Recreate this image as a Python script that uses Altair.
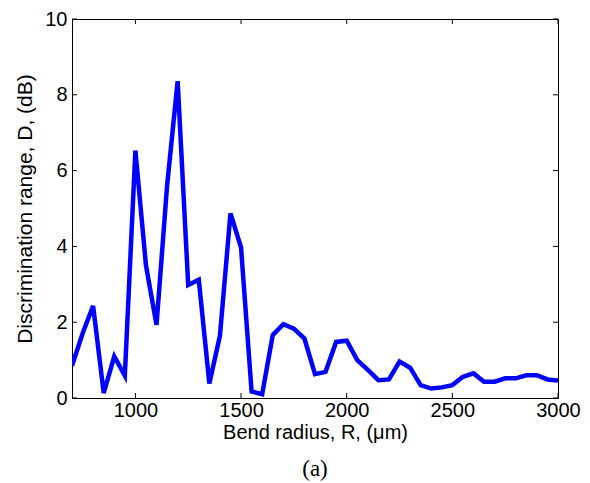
import altair as alt
import pandas as pd

# Data
radius = [700, 750, 800, 850, 900, 950, 1000, 1050, 1100, 1150, 1200, 1250, 1300,
          1350, 1400, 1450, 1500, 1550, 1600, 1650, 1700, 1750, 1800, 1850, 1900,
          1950, 2000, 2050, 2100, 2150, 2200, 2250, 2300, 2350, 2400, 2450, 2500,
          2550, 2600, 2650, 2700, 2750, 2800, 2850, 2900, 2950, 3000]
discrimination = [0.85, 1.70, 2.43, 0.13, 1.10, 0.59, 6.53, 3.50, 1.93, 5.60, 8.36,
                  2.98, 3.12, 0.38, 1.64, 4.87, 3.97, 0.17, 0.10, 1.66, 1.95, 1.83,
                  1.57, 0.63, 0.69, 1.48, 1.51, 1.00, 0.74, 0.47, 0.49, 0.96, 0.80,
                  0.34, 0.25, 0.28, 0.34, 0.56, 0.65, 0.43, 0.43, 0.52, 0.52, 0.60,
                  0.60, 0.49, 0.46]
x_ticks = [1000, 1500, 2000, 2500, 3000]
y_ticks = [0, 2, 4, 6, 8, 10]
x_title = "Bend radius, R, (μm)"
y_title = "Discrimination range, D, (dB)"
caption = ["(a)"]

W, H = 486, 379
FONT = "Liberation Sans"

df = pd.DataFrame({"R": radius, "D": discrimination})
xt = pd.DataFrame({"R": x_ticks})
yt = pd.DataFrame({"D": y_ticks})
cap = pd.DataFrame({"t": caption})

xscale = alt.Scale(domain=[700, 3000], nice=False, zero=False)
yscale = alt.Scale(domain=[0, 10], nice=False, zero=True)

xaxis = alt.Axis(values=x_ticks, title=x_title, format="d", labelPadding=2, titlePadding=2)
yaxis = alt.Axis(values=y_ticks, title=y_title, format="d", labelPadding=5, titlePadding=9,
                 titleFontSize=21)

line = alt.Chart(df).mark_line(color="#0000FF", strokeWidth=4.5, clip=True).encode(
    x=alt.X("R:Q", scale=xscale, axis=xaxis),
    y=alt.Y("D:Q", scale=yscale, axis=yaxis),
)

tick_style = dict(color="black", strokeWidth=1)
xb = alt.Chart(xt).mark_rule(**tick_style).encode(
    x=alt.X("R:Q", scale=xscale, axis=xaxis), y=alt.value(H), y2=alt.value(H - 5))
xtop = alt.Chart(xt).mark_rule(**tick_style).encode(
    x=alt.X("R:Q", scale=xscale, axis=xaxis), y=alt.value(0), y2=alt.value(5))
yl = alt.Chart(yt).mark_rule(**tick_style).encode(
    y=alt.Y("D:Q", scale=yscale, axis=yaxis), x=alt.value(0), x2=alt.value(5))
yr = alt.Chart(yt).mark_rule(**tick_style).encode(
    y=alt.Y("D:Q", scale=yscale, axis=yaxis), x=alt.value(W), x2=alt.value(W - 5))

capt = alt.Chart(cap).mark_text(font="Liberation Serif", fontSize=23, color="black",
                                baseline="middle", align="center").encode(
    text="t:N", x=alt.value(W / 2), y=alt.value(H + 71))

chart = alt.layer(line, xb, xtop, yl, yr, capt).properties(
    width=W, height=H,
    background="white",
    autosize=alt.AutoSizeParams(type="none"),
    padding={"left": 64, "top": 11, "right": 24, "bottom": 92},
).configure_view(stroke="black", strokeWidth=1).configure_axis(
    ticks=False, labelFlush=False, labelOverlap=False, grid=False,
    domainColor="black", domainWidth=1, labelColor="black", titleColor="black",
    labelFontSize=20, titleFontSize=20, labelFont=FONT, titleFont=FONT,
    titleFontWeight="normal",
)

chart.save("out.html", embed_options={"renderer": "svg", "actions": False})
